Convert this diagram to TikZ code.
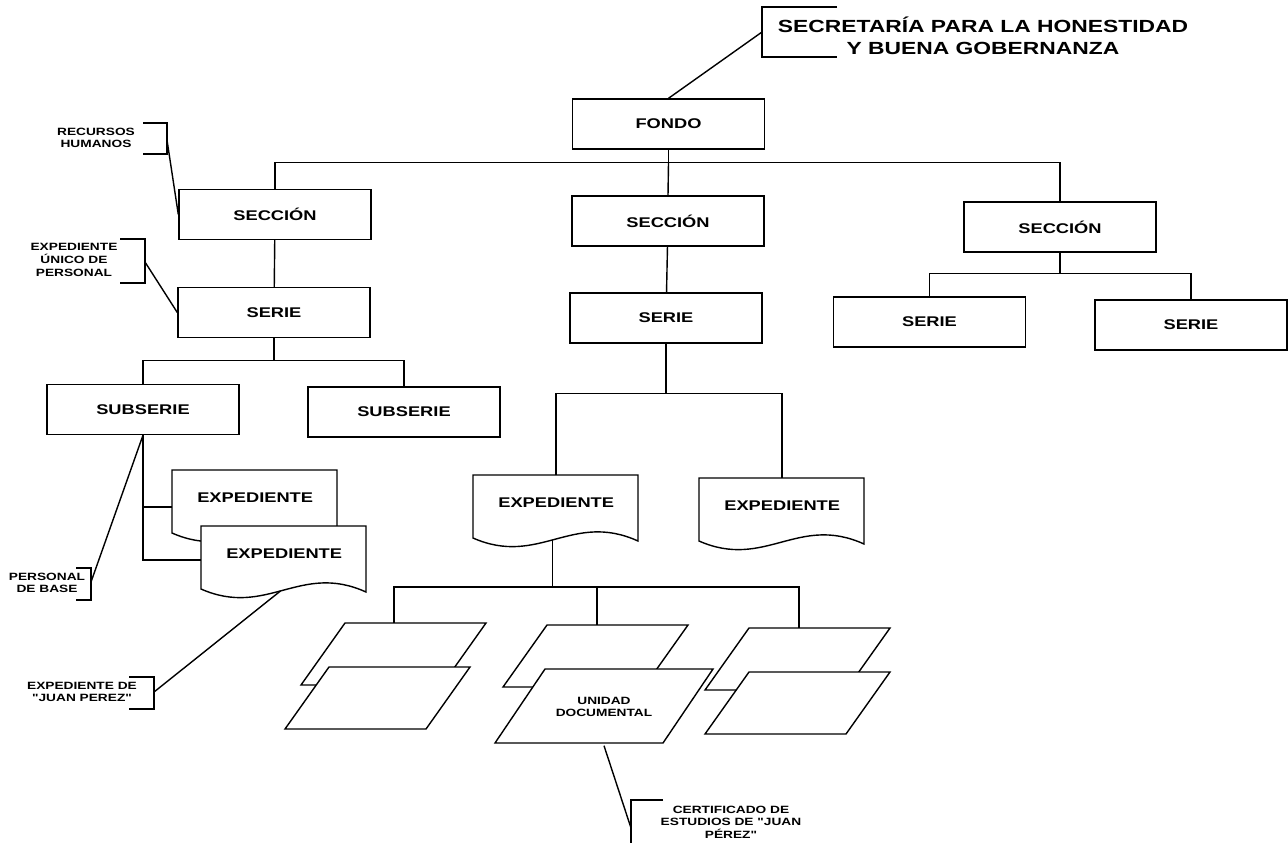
\documentclass[tikz,border=0pt]{standalone}
\usepackage{fontspec}
\newfontfamily\rotulo[FakeStretch=1.3]{Liberation Sans}
\usetikzlibrary{calc}

\tikzset{
    caja/.style={draw, minimum width=3.84cm, minimum height=1cm, inner sep=0pt,
        font=\rotulo\bfseries\fontsize{8}{9}\selectfont},
    expe/.style={anchor=north west, minimum width=3.3cm, minimum height=1.08cm, inner sep=0pt,
        font=\rotulo\bfseries\fontsize{8}{9}\selectfont},
    nota/.style={align=center, inner sep=0pt, font=\rotulo\bfseries\fontsize{6}{7.2}\selectfont},
    titulo/.style={align=center, inner sep=0pt, font=\rotulo\bfseries\fontsize{10}{12.5}\selectfont},
    hoja/.style={draw, fill=white}
}

\newcommand{\expediente}[2]{%
    \draw[fill=white] ($(#2)+(0,63)$) .. controls ($(#2)+(66,92)$) and ($(#2)+(99,36)$) .. ($(#2)+(165,66)$)
        coordinate[pos=.48] (#1w) -- ($(#2)+(165,0)$) -- (#2) -- cycle;
    \node[expe] (#1) at (#2) {EXPEDIENTE};}

\begin{document}
\begin{tikzpicture}[x=0.02cm, y=-0.02cm, line width=0.8pt]
    \useasboundingbox (0,0) rectangle (1288,843);

    \node[titulo]   (tit)   at (983,36)     {SECRETARÍA PARA LA HONESTIDAD\\Y BUENA GOBERNANZA};
    \node[caja]     (fondo) at (668.5,124)  {FONDO};

    \node[caja]     (sec1)  at (275,214.5)  {SECCIÓN};
    \node[caja]     (sec2)  at (668,221)    {SECCIÓN};
    \node[caja]     (sec3)  at (1060,227)   {SECCIÓN};

    \node[caja]     (ser1)  at (274,312.5)  {SERIE};
    \node[caja]     (ser2)  at (666,318)    {SERIE};
    \node[caja]     (s31)   at (929.5,322)  {SERIE};
    \node[caja]     (s32)   at (1191,325)   {SERIE};

    \node[caja]     (sub1)  at (143,409.5)  {SUBSERIE};
    \node[caja]     (sub2)  at (404,412)    {SUBSERIE};

    \expediente{xa}{172,470}
    \expediente{xb}{201,526}
    \expediente{e1}{473,475}
    \expediente{e2}{699,478}

    \draw   (fondo.south) -- ++(0,13) coordinate (b0);
    \draw   (sec1.north) |- (b0) -| (sec3.north);
    \draw   (b0) -- (sec2.north);
    \draw   (sec1) -- (ser1);
    \draw   (sec2) -- (ser2);
    \draw   (ser1.south) -- ++(0,22) coordinate (b1);
    \draw   (sub1.north) |- (b1) -| (sub2.north);
    \draw   (ser2.south) -- ++(0,50) coordinate (b2);
    \draw   (e1.north) |- (b2) -| (e2.north);
    \draw   (sec3.south) -- ++(0,21) coordinate (b3);
    \draw   (s31.north) |- (b3) -| (s32.north);
    \draw   (sub1.south) |- ($(xa.north west)+(0,37)$);
    \draw   (sub1.south) |- ($(xb.north west)+(0,34)$);

    \coordinate (h1) at (394,623);
    \coordinate (h2) at (597,625);
    \coordinate (h3) at (799,628);
    \draw   (e1w) -- ++(0,47) coordinate (b4);
    \draw   (h1) |- (b4) -| (h3);
    \draw   (h2) -- (h2 |- b4);

    \draw[hoja]   (345,623) -- ++(141,0) -- ++(-44,62) -- ++(-141,0) -- cycle;
    \draw[hoja]   (329,667) -- ++(141,0) -- ++(-44,62) -- ++(-141,0) -- cycle;
    \draw[hoja]   (547,625) -- ++(141,0) -- ++(-44,62) -- ++(-141,0) -- cycle;
    \draw[hoja]   (749,628) -- ++(141,0) -- ++(-44,62) -- ++(-141,0) -- cycle;
    \draw[hoja]   (749,672) -- ++(141,0) -- ++(-44,62) -- ++(-141,0) -- cycle;
    \draw[hoja]   (545,669) -- ++(168,0) -- ++(-50,74) -- ++(-168,0) -- cycle;
    \node[nota, minimum height=1.52cm] (ud) at (604,707) {UNIDAD\\DOCUMENTAL};

    \draw   (837,7) -| (762,57) -- (837,57);
    \coordinate (titc) at (762,32);
    \draw   (titc) -- (fondo.north);

    \node[nota]     (rh)    at (96,138)     {RECURSOS\\HUMANOS};
    \draw   (143,123) -| (167,154) -- (143,154);
    \coordinate (rhc) at (167,140);
    \draw   (rhc) -- (sec1.west);

    \node[nota]     (eup)   at (74,260)     {EXPEDIENTE\\ÚNICO DE\\PERSONAL};
    \draw   (120,239) -| (145,283) -- (120,283);
    \coordinate (eupc) at (145,262);
    \draw   (eupc) -- (ser1.west);

    \node[nota]     (pb)    at (47,583)     {PERSONAL\\DE BASE};
    \draw   (76,568) -| (91,600) -- (76,600);
    \coordinate (pbc) at (91,582);
    \draw   (pbc) -- (sub1.south);

    \node[nota]     (ejp)   at (82,692)     {EXPEDIENTE DE\\"JUAN PEREZ"};
    \draw   (129,677) -| (154,709) -- (129,709);
    \coordinate (ejpc) at (154,692);
    \draw   (ejpc) -- (xbw);

    \node[nota]     (cert)  at (731,822)    {CERTIFICADO DE\\ESTUDIOS DE "JUAN\\PÉREZ"};
    \draw   (663,800) -| (631,843);
    \coordinate (certc) at (631,828);
    \draw   (ud.south) -- (certc);
\end{tikzpicture}
\end{document}
